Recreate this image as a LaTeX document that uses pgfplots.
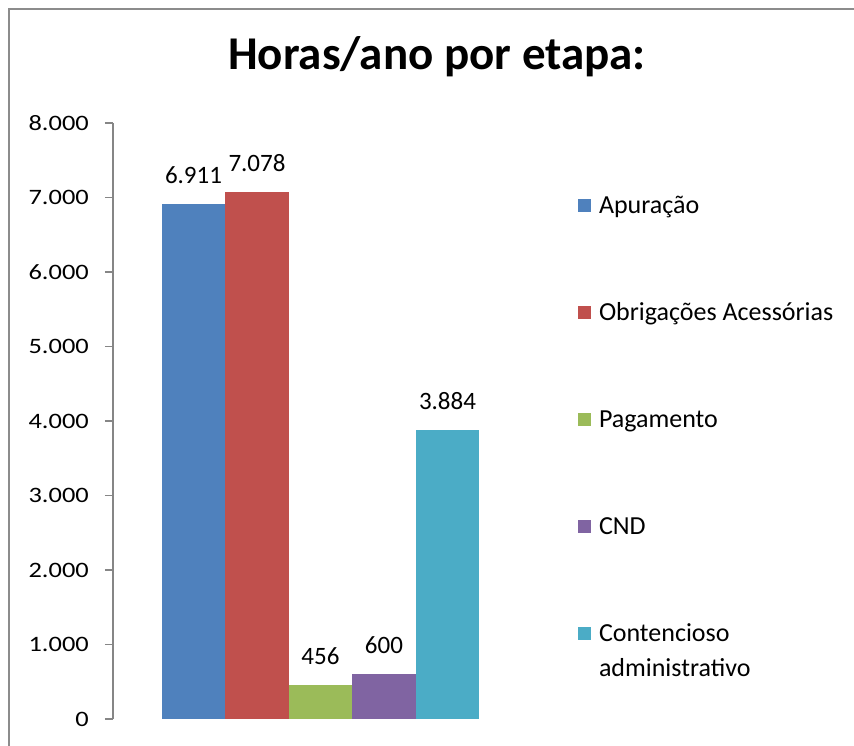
\documentclass[border=0pt]{standalone}
\usepackage{pgfplots}
\pgfplotsset{compat=1.18}
\usepackage{fontspec}
\setmainfont{Carlito}
\usepackage{graphicx}
\definecolor{cA}{HTML}{4F81BD}
\definecolor{cB}{HTML}{C0504D}
\definecolor{cC}{HTML}{9BBB59}
\definecolor{cD}{HTML}{8064A2}
\definecolor{cE}{HTML}{4BACC6}
\definecolor{axgray}{HTML}{868686}
\definecolor{framegray}{HTML}{8C8C8C}
\begin{document}
\begin{tikzpicture}
\useasboundingbox (0,0) rectangle (854pt,745pt);
\fill[white] (0,0) rectangle (854pt,745pt);
\draw[color=framegray, line width=2.5pt] (9pt,-2pt) -- (9pt,736pt) -- (856pt,736pt);
\begin{axis}[
  at={(113pt,26pt)}, anchor=south west,
  scale only axis, width=415pt, height=596pt,
  xmin=-1, xmax=1, ymin=0, ymax=8000,
  ybar=0pt, bar width=63.5pt,
  axis y line*=left, axis x line=none,
  xtick=\empty,
  ytick={0,1000,...,8000},
  tick align=outside, major tick length=8pt,
  y axis line style={color=axgray, line width=1.5pt, -},
  ytick style={color=axgray, line width=1.5pt},
  /pgf/number format/1000 sep={.},
  /pgf/number format/assume math mode=true,
  yticklabel={\scalebox{1.2}[1]{\fontsize{22}{26}\selectfont\pgfmathprintnumber{\tick}}},
  yticklabel style={anchor=east, inner sep=0pt, text=black, xshift=-16pt},
  nodes near coords,
  nodes near coords style={font=\fontsize{25}{30}\selectfont, anchor=south, inner sep=0pt, yshift=20pt, text=black},
  title={Horas/ano por etapa:},
  title style={at={(0.7807,1.080)}, anchor=base, font=\fontsize{47}{56}\selectfont\bfseries, inner sep=0pt},
  legend style={draw=none, fill=none, at={(1.1205,0.8758)}, anchor=north west, inner sep=0pt, outer sep=0pt,
    row sep=90.3pt, column sep=8pt, font=\fontsize{26}{35}\selectfont,
    nodes={inner sep=0pt, text height=16.7pt, text depth=0pt}},
  legend cell align=left,
  legend image code/.code={\fill[#1] (0pt,-6.5pt) rectangle (13pt,6.5pt);},
]
\addplot[fill=cA, draw=none] coordinates {(0,6911)};
\addlegendentry{Apuração}
\addplot[fill=cB, draw=none] coordinates {(0,7078)};
\addlegendentry{Obrigações Acessórias}
\addplot[fill=cC, draw=none] coordinates {(0,456)};
\addlegendentry{Pagamento}
\addplot[fill=cD, draw=none] coordinates {(0,600)};
\addlegendentry{CND}
\addplot[fill=cE, draw=none] coordinates {(0,3884)};
\addlegendentry{\smash{\begin{tabular}[t]{@{}l@{}}Contencioso\\administrativo\end{tabular}}}
\end{axis}
\end{tikzpicture}
\end{document}
